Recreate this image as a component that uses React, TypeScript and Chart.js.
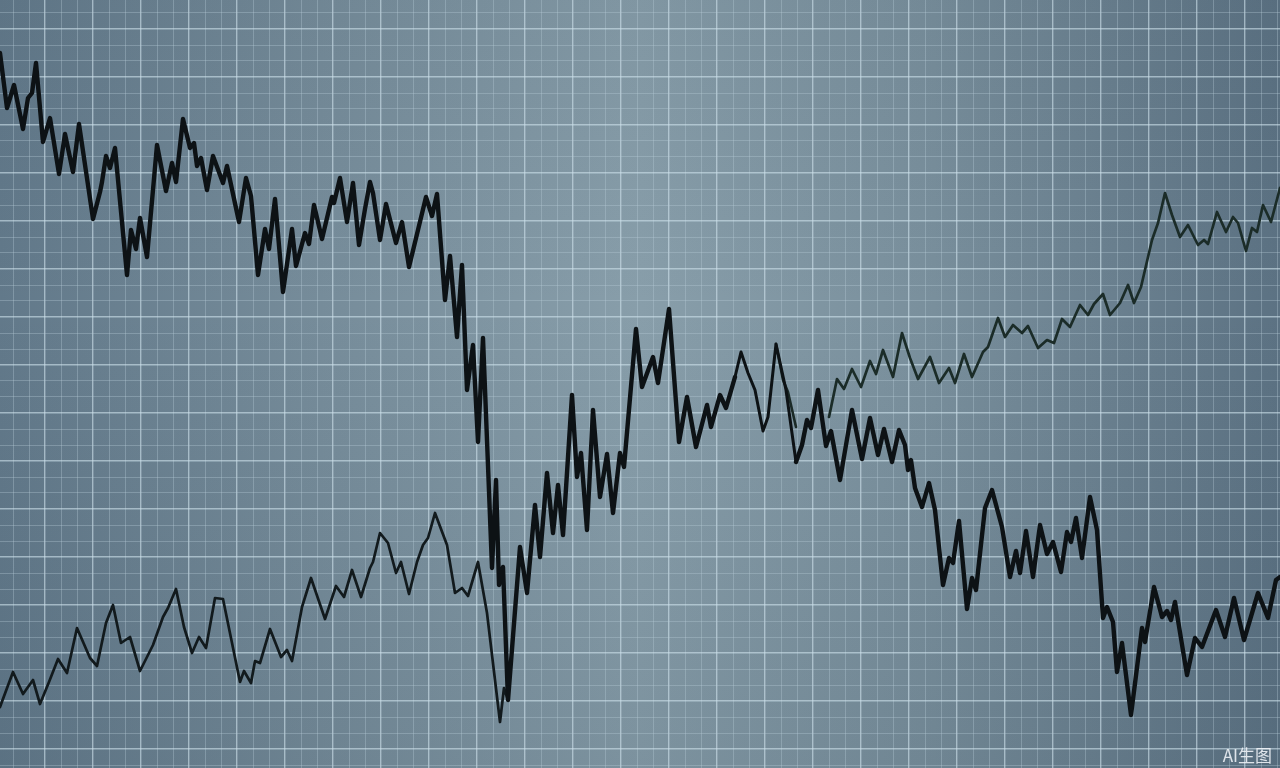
import React, { useEffect, useRef } from "react";
import { Chart, registerables } from "chart.js";

Chart.register(...registerables);

// Thick dark series (top-left, plunge, lower-right)
const aX = [0, 0.7, 1.4, 2.3, 2.8, 3.2, 3.6, 4.3, 5.0, 5.9, 6.5, 7.3, 7.9, 9.3, 10.0, 10.2, 10.6, 11.0, 11.5, 12.7, 13.1, 13.6, 14.0, 14.7, 15.7, 16.6, 17.2, 17.6, 18.3, 19.0, 19.4, 19.7, 20.1, 20.7, 21.3, 22.3, 22.7, 23.9, 24.6, 25.1, 25.8, 26.5, 26.9, 27.5, 28.3, 29.2, 29.6, 30.5, 30.9, 31.4, 32.2, 33.2, 33.4, 34.0, 34.7, 35.3, 35.9, 36.5, 37.0, 37.3, 38.0, 38.6, 39.6, 40.2, 40.9, 42.6, 43.2, 43.7, 44.5, 45.0, 45.7, 46.2, 46.7, 47.3, 47.8, 48.3, 49.2, 49.6, 49.9, 50.3, 50.8, 52.0, 52.7, 53.5, 54.0, 54.7, 55.3, 55.8, 56.3, 57.2, 57.7, 58.1, 58.7, 59.3, 60.0, 60.7, 61.3, 62.0, 62.4, 63.6, 64.2, 65.3, 65.8, 66.9, 67.9, 68.7, 69.6, 70.7, 71.1, 72.0, 72.6, 73.5, 74.1, 74.8, 75.5, 76.3, 76.8, 77.6, 78.6, 79.6, 80.2, 80.7, 81.1, 81.8, 82.6, 83.1, 84.0, 85.2, 86.2, 87.0, 87.8, 88.4, 89.2, 89.9, 90.5, 90.8, 91.1, 91.5, 92.2, 92.9, 93.5, 94.3, 94.9, 95.3, 95.9, 96.7, 97.2, 97.6, 98.5, 99.2, 100.2, 101.0, 101.6, 102.0, 102.6, 103.3, 104.0, 104.7, 105.3, 106.1, 106.7, 107.1, 107.6, 108.2, 109.0, 109.7, 110.3, 110.7, 111.3, 111.7, 112.2, 113.1, 114.2, 114.5, 115.4, 116.2, 116.7, 117.1, 117.5, 118.7, 119.5, 120.2, 121.6, 122.5, 123.4, 124.4, 125.8, 126.8, 127.6, 128.0];
const aY = [71.5, 66.0, 68.3, 63.9, 67.0, 67.5, 70.5, 62.6, 65.0, 59.4, 63.4, 59.6, 64.4, 54.9, 57.6, 58.6, 61.2, 60.0, 62.0, 49.3, 53.8, 51.9, 55.0, 51.1, 62.3, 57.7, 60.5, 58.6, 64.9, 62.0, 62.5, 60.2, 61.0, 57.8, 61.2, 58.5, 60.2, 54.6, 59.0, 57.2, 49.3, 53.9, 51.9, 56.9, 47.6, 53.9, 50.2, 53.5, 52.4, 56.3, 52.9, 57.1, 56.5, 59.0, 54.6, 58.5, 52.3, 55.9, 58.6, 57.5, 52.8, 56.4, 52.5, 54.6, 50.1, 57.1, 55.2, 57.4, 46.8, 51.2, 43.1, 50.3, 37.8, 42.3, 32.6, 43.0, 20.0, 28.8, 18.3, 20.1, 6.8, 22.1, 17.5, 26.3, 21.1, 29.5, 23.5, 28.3, 23.3, 37.3, 29.1, 31.5, 23.8, 35.8, 27.1, 31.4, 25.5, 31.5, 30.1, 43.9, 38.1, 41.1, 38.5, 45.9, 32.6, 37.1, 32.1, 36.3, 34.1, 37.3, 36.0, 39.1, 41.6, 39.5, 37.8, 33.7, 35.1, 42.4, 37.8, 30.6, 32.3, 34.8, 34.0, 37.8, 32.2, 33.7, 28.8, 35.8, 30.9, 35.0, 31.3, 33.9, 30.6, 33.8, 32.3, 29.8, 30.8, 28.0, 26.1, 28.5, 25.8, 18.3, 21.0, 20.5, 24.7, 15.9, 19.0, 17.8, 26.0, 27.8, 24.1, 19.1, 21.7, 19.5, 23.7, 19.1, 24.3, 21.4, 22.6, 19.6, 23.6, 22.6, 25.0, 21.0, 27.1, 23.8, 15.0, 16.1, 14.6, 9.6, 12.5, 5.3, 14.0, 12.6, 18.1, 15.1, 15.7, 14.8, 16.6, 9.3, 13.0, 12.1, 15.8, 13.1, 17.0, 12.8, 17.5, 15.0, 18.8, 19.1];

// Thin series rising from lower-left into the plunge
const bX = [0, 1.3, 2.3, 3.3, 4.0, 4.9, 5.8, 6.7, 7.7, 9.0, 9.7, 10.6, 11.3, 12.1, 13.0, 14.0, 15.3, 16.3, 16.8, 17.6, 18.4, 19.2, 19.9, 20.6, 21.5, 22.3, 24.0, 24.4, 25.1, 25.5, 26.0, 27.0, 28.1, 28.7, 29.2, 30.2, 31.1, 32.5, 33.6, 34.4, 35.2, 36.1, 37.0, 37.3, 38.0, 38.8, 39.6, 40.1, 40.9, 41.7, 42.3, 42.8, 43.5, 44.7, 45.5, 46.2, 46.8, 47.8, 48.7, 50.0, 50.4, 50.8];
const bY = [6.1, 9.6, 7.4, 8.8, 6.4, 8.6, 10.9, 9.5, 14.0, 11.0, 10.2, 14.5, 16.3, 12.5, 13.1, 9.7, 12.3, 15.1, 16.0, 17.9, 14.1, 11.5, 13.1, 12.0, 17.0, 16.9, 8.6, 9.7, 8.5, 10.7, 10.5, 13.9, 11.1, 11.8, 10.7, 16.1, 19.0, 14.9, 18.2, 17.1, 19.8, 17.1, 20.0, 20.6, 23.5, 22.5, 19.5, 20.6, 17.4, 20.6, 22.3, 23.0, 25.5, 22.3, 17.5, 18.0, 17.2, 20.6, 15.5, 4.6, 8.0, 6.8];

// Short thin branch splitting off in the middle
const cX = [77.6, 78.3, 78.8, 79.6];
const cY = [42.4, 38.8, 37.6, 34.1];

// Thin series climbing to the upper-right
const dX = [82.9, 83.7, 84.4, 85.2, 86.1, 87.0, 87.6, 88.3, 89.3, 90.2, 91.0, 91.8, 93.0, 93.9, 94.9, 95.5, 96.4, 97.2, 98.3, 98.8, 99.8, 100.5, 101.3, 102.2, 102.8, 103.8, 104.7, 105.4, 106.2, 107.0, 108.0, 108.8, 109.4, 110.3, 111.0, 112.0, 112.8, 113.4, 114.1, 115.2, 115.8, 116.5, 117.2, 118.0, 118.8, 119.8, 120.4, 120.8, 121.7, 122.6, 123.3, 123.8, 124.6, 125.2, 125.7, 126.3, 127.1, 128.0];
const dY = [35.1, 38.9, 37.9, 39.9, 38.1, 40.7, 39.4, 41.8, 39.1, 43.5, 41.0, 38.9, 41.1, 38.5, 40.0, 38.5, 41.4, 39.1, 41.6, 42.1, 45.0, 43.1, 44.3, 43.5, 44.2, 42.0, 42.8, 42.5, 44.9, 44.1, 46.3, 45.3, 46.4, 47.4, 45.3, 46.5, 48.3, 46.5, 48.1, 52.8, 54.5, 57.5, 55.3, 53.1, 54.3, 52.3, 52.8, 52.4, 55.6, 53.6, 55.1, 54.5, 51.7, 54.0, 53.6, 56.3, 54.6, 58.0];

// Grid tick positions (data units)
const gridX = Array.from({ length: 80 }, (_, k) => +(1.3 + 1.6 * k).toFixed(2));
const gridY = Array.from({ length: 48 }, (_, k) => +(75.5 - 1.6 * k).toFixed(2));

const toPts = (xs: number[], ys: number[]) => xs.map((x, i) => ({ x, y: ys[i] }));

const bgPlugin = {
  id: "bgGradient",
  beforeDraw(chart: any) {
    const { ctx, width, height } = chart;
    ctx.save();
    const g = ctx.createLinearGradient(0, 0, width, 0);
    g.addColorStop(0, "#62798a");
    g.addColorStop(0.25, "#768c9a");
    g.addColorStop(0.5, "#889eaa");
    g.addColorStop(0.72, "#7a909d");
    g.addColorStop(1, "#5c7283");
    ctx.fillStyle = g;
    ctx.fillRect(0, 0, width, height);
    const v = ctx.createLinearGradient(0, 0, 0, height);
    v.addColorStop(0, "rgba(40,60,75,0.08)");
    v.addColorStop(0.4, "rgba(40,60,75,0)");
    v.addColorStop(1, "rgba(40,60,75,0.12)");
    ctx.fillStyle = v;
    ctx.fillRect(0, 0, width, height);
    ctx.restore();
  },
};

const minorColor = "rgba(185,206,218,0.34)";
const majorColor = "rgba(205,224,234,0.62)";

export default function App() {
  const ref = useRef<HTMLCanvasElement | null>(null);

  useEffect(() => {
    document.body.style.margin = "0";
    if (!ref.current) return;
    const thinMid = (ctx: any) => {
      const x0 = ctx.p0.parsed.x;
      const x1 = ctx.p1.parsed.x;
      return x0 >= 73 && x1 <= 79.6 ? 3 : 4.4;
    };
    const chart = new Chart(ref.current, {
      type: "line",
      data: {
        datasets: [
          {
            label: "A",
            data: toPts(aX, aY),
            borderColor: "#0d1215",
            borderWidth: 4.4,
            pointRadius: 0,
            tension: 0,
            borderJoinStyle: "round",
            borderCapStyle: "round",
            segment: { borderWidth: thinMid },
          } as any,
          {
            label: "B",
            data: toPts(bX, bY),
            borderColor: "#121a1d",
            borderWidth: 2.7,
            pointRadius: 0,
            tension: 0,
            borderJoinStyle: "round",
            borderCapStyle: "round",
          },
          {
            label: "C",
            data: toPts(cX, cY),
            borderColor: "#1b2a27",
            borderWidth: 2.6,
            pointRadius: 0,
            tension: 0,
            borderJoinStyle: "round",
            borderCapStyle: "round",
          },
          {
            label: "D",
            data: toPts(dX, dY),
            borderColor: "#1b2c28",
            borderWidth: 2.7,
            pointRadius: 0,
            tension: 0,
            borderJoinStyle: "round",
            borderCapStyle: "round",
          },
        ],
      },
      options: {
        animation: false,
        responsive: false,
        events: [],
        layout: { padding: 0 },
        plugins: { legend: { display: false }, tooltip: { enabled: false }, title: { display: false } },
        scales: {
          x: {
            type: "linear",
            min: 0,
            max: 128,
            afterBuildTicks: (s: any) => {
              s.ticks = gridX.map((value) => ({ value }));
            },
            ticks: { display: false },
            border: { display: false },
            grid: {
              drawTicks: false,
              tickLength: 0,
              color: (c: any) => (c.index % 3 === 2 ? majorColor : minorColor),
              lineWidth: (c: any) => (c.index % 3 === 2 ? 1.4 : 1),
            },
          },
          y: {
            type: "linear",
            min: 0,
            max: 76.8,
            afterBuildTicks: (s: any) => {
              s.ticks = gridY.map((value) => ({ value }));
            },
            ticks: { display: false },
            border: { display: false },
            grid: {
              drawTicks: false,
              tickLength: 0,
              color: (c: any) => (c.index % 3 === 1 ? majorColor : minorColor),
              lineWidth: (c: any) => (c.index % 3 === 1 ? 1.4 : 1),
            },
          },
        },
      },
      plugins: [bgPlugin],
    });
    return () => chart.destroy();
  }, []);

  return (
    <div style={{ position: "relative", width: 1280, height: 768, overflow: "hidden" }}>
      <canvas ref={ref} width={1280} height={768} style={{ display: "block" }} />
      <div
        style={{
          position: "absolute",
          right: 8,
          bottom: 3,
          fontFamily: '"Noto Sans CJK SC", "Noto Sans", sans-serif',
          fontSize: 17,
          lineHeight: "20px",
          color: "rgba(240,244,248,0.88)",
        }}
      >
        AI生图
      </div>
    </div>
  );
}
